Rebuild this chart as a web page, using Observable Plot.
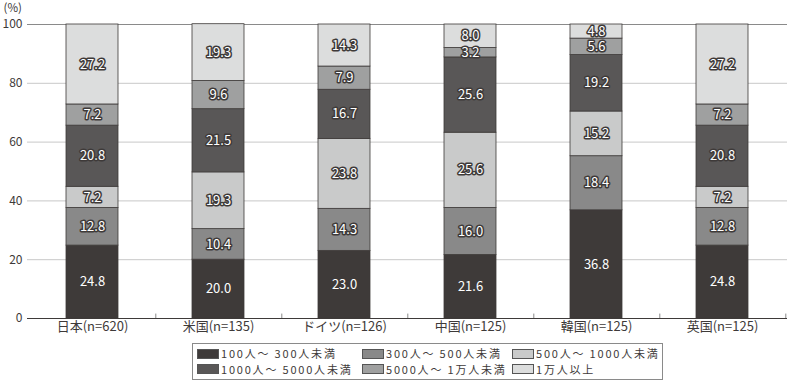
<!DOCTYPE html>
<html>
<head>
<meta charset="utf-8">
<script src="https://cdn.jsdelivr.net/npm/d3@7"></script>
<script src="https://cdn.jsdelivr.net/npm/@observablehq/plot@0.6"></script>
<style>
  body { margin: 0; background: #fff; font-family: "Noto Sans CJK JP", "Noto Sans", sans-serif; }
  #wrap { position: relative; width: 792px; height: 383px; overflow: hidden; }
  #chart { position: absolute; left: 0; top: 0; }
  #legend { position: absolute; left: 192px; top: 343px; width: 471px; height: 37px; border: 1px solid #8a8a8a; box-sizing: border-box; font-size: 11px; color: #3e3a39; }
  .item { position: absolute; display: flex; align-items: center; white-space: nowrap; line-height: 11px; height: 12px; }
  .item span.t { letter-spacing: 1.8px; line-height: 11px; }
  .sw { width: 22px; height: 10px; border: 1px solid #555; box-sizing: border-box; margin-right: 2px; flex: none; }
</style>
</head>
<body>
<div id="wrap"><div id="chart"></div><div id="legend"></div></div>
<script>
const countries = ["日本(n=620)", "米国(n=135)", "ドイツ(n=126)", "中国(n=125)", "韓国(n=125)", "英国(n=125)"];
const seriesNames = ["100人～ 300人未満", "300人～ 500人未満", "500人～ 1000人未満", "1000人～ 5000人未満", "5000人～ 1万人未満", "1万人以上"];
const seriesColors = ["#3e3a39", "#898989", "#c9caca", "#595757", "#9fa0a0", "#dcdddd"];
const s100_300 = [24.8, 20.0, 23.0, 21.6, 36.8, 24.8];
const s300_500 = [12.8, 10.4, 14.3, 16.0, 18.4, 12.8];
const s500_1000 = [7.2, 19.3, 23.8, 25.6, 15.2, 7.2];
const s1000_5000 = [20.8, 21.5, 16.7, 25.6, 19.2, 20.8];
const s5000_10000 = [7.2, 9.6, 7.9, 3.2, 5.6, 7.2];
const s10000plus = [27.2, 19.3, 14.3, 8.0, 4.8, 27.2];
const yTicks = [0, 20, 40, 60, 80, 100];

const seriesValues = [s100_300, s300_500, s500_1000, s1000_5000, s5000_10000, s10000plus];
const data = [];
countries.forEach((c, i) => seriesNames.forEach((s, j) => data.push({country: c, series: s, value: seriesValues[j][i]})));

const chart = Plot.plot({
  width: 792,
  height: 340,
  marginLeft: 27,
  marginRight: 5,
  marginTop: 24,
  marginBottom: 22,
  style: {fontFamily: '"Noto Sans CJK JP", "Noto Sans", sans-serif', fontSize: "12px", color: "#3e3a39", overflow: "visible"},
  x: {domain: countries, paddingInner: 0.59, paddingOuter: 0.295, label: null},
  y: {domain: [0, 100], ticks: yTicks, label: null},
  color: {domain: seriesNames, range: seriesColors},
  marks: [
    Plot.gridY(yTicks.filter(d => d > 0 && d < 100), {stroke: "#c8c8c8", strokeOpacity: 1}),
    Plot.ruleY([100], {stroke: "#8a8a8a"}),
    Plot.barY(data, Plot.stackY({x: "country", y: "value", z: "series", fill: "series", order: seriesNames, stroke: "#3e3a39", strokeWidth: 0.8})),
    Plot.textY(data, Plot.stackY({x: "country", y: "value", z: "series", order: seriesNames, text: d => d.value.toFixed(1),
      fill: "white", stroke: "#3e3a39", strokeWidth: 3, fontSize: 13})),
    Plot.ruleX(countries, {x: d => d, dx: 63.3, y1: 0, y2: 1.5, stroke: "#8a8a8a"}),
    Plot.ruleX([0], {frameAnchor: "left", stroke: "#8a8a8a"}),
    Plot.ruleY([0], {stroke: "#3e3a39"}),
    Plot.axisY({ticks: yTicks, tickSize: 0, tickPadding: 5, label: null, fontSize: 12}),
    Plot.axisX({tickSize: 0, tickPadding: 3, label: null, fontSize: 13}),
    Plot.text(["(%)"], {frameAnchor: "top-left", textAnchor: "start", dx: -24, dy: -16, fontSize: 11.5, lineAnchor: "middle"})
  ]
});
document.getElementById("chart").appendChild(chart);

const legend = document.getElementById("legend");
const colX = [4, 169, 319];
seriesNames.forEach((name, j) => {
  const it = document.createElement("div");
  it.className = "item";
  it.style.left = colX[j % 3] + "px";
  it.style.top = (j < 3 ? 3.5 : 19) + "px";
  it.innerHTML = `<span class="sw" style="background:${seriesColors[j]}"></span><span class="t">${name}</span>`;
  legend.appendChild(it);
});
</script>
</body>
</html>
